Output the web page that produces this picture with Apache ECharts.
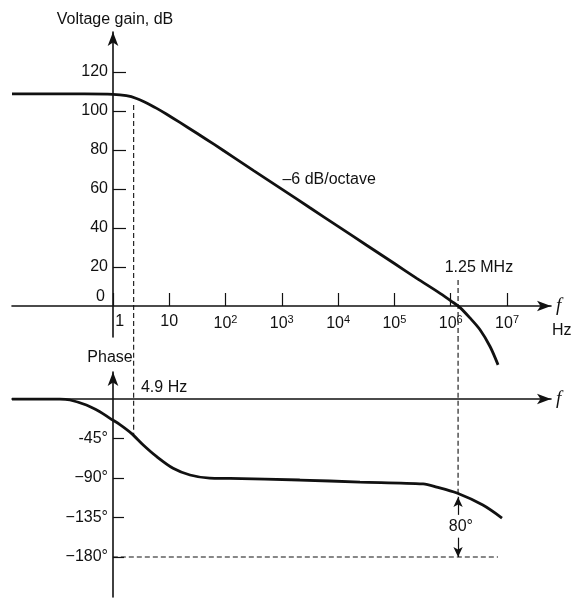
<!DOCTYPE html>
<html>
<head>
<meta charset="utf-8">
<script src="https://cdn.jsdelivr.net/npm/echarts@6/dist/echarts.min.js"></script>
<style>
html, body { margin: 0; padding: 0; background: #fff; }
#chart { width: 574px; height: 598px; }
</style>
</head>
<body>
<div id="chart"></div>
<script>
// frequencies are given in decades (log10 of f in Hz), as the figure is drawn on a log scale
const decadeTicks = [0, 1, 2, 3, 4, 5, 6, 7];
const gainTicks = [0, 20, 40, 60, 80, 100, 120];
const phaseTicks = [-45, -90, -135, -180];
const phaseTickLabels = ['-45°', '−90°', '−135°', '−180°'];

const gainFreq = [-1.79, -0.5, 0, 0.24, 0.42, 0.6, 0.78, 0.95, 1.19, 1.5, 1.8, 2.14, 2.5, 3, 3.5, 4, 4.5, 5, 5.39, 5.81, 6.02, 6.16, 6.34, 6.52, 6.7, 6.84];
const gainDb = [108.7, 108.7, 108.5, 107.8, 106.4, 104.1, 101.3, 98.4, 94.1, 88.4, 82.8, 76.3, 69.4, 59.9, 50.3, 40.8, 31.2, 21.7, 14.2, 6.4, 2.2, -0.8, -6.2, -12.3, -21, -30.3];

const phaseFreq = [-1.79, -0.94, -0.76, -0.47, -0.23, -0.05, 0.12, 0.33, 0.54, 0.78, 1.07, 1.37, 1.72, 2.08, 3.32, 4.39, 5.51, 5.75, 6.11, 6.57, 6.91];
const phaseDeg = [0, 0, -1.1, -6.8, -14.5, -22, -28.8, -39.1, -52.4, -65.7, -78.9, -86.6, -90.2, -90.5, -92.3, -94.6, -96.8, -100.3, -107.1, -120.8, -135.6];

// reference markers
const cornerFreq = 0.37;      // 4.9 Hz
const unityFreq = 6.13;       // 1.25 MHz
const cornerGainSpan = [103, -16];
const cornerPhaseSpan = [71, -43];
const unityGainSpan = [13.3, -16];
const unityPhaseSpan = [71, -111.6];
const floorPhase = -180;
const floorFreqSpan = [0, 6.84];
const marginArrowUp = [-132, -111.6];
const marginArrowDown = [-158, -180];

// annotation texts, anchored in data coordinates of their panel
const gainNotes = [
  { text: '–6 dB/octave', at: [3.84, 64.6] },
  { text: '1.25 MHz', at: [6.5, 19.5] },
  { text: 'Hz', at: [7.97, -12.8] }
];
const phaseNotes = [
  { text: '4.9 Hz', at: [0.91, 12.5] },
  { text: '80°', at: [6.18, -145.8] }
];

const FONT = "'Liberation Sans', Arial, sans-serif";
const INK = '#111';

const chart = echarts.init(document.getElementById('chart'), null, { renderer: 'canvas' });

const zip = (xs, ys) => xs.map((x, i) => [x, ys[i]]);
const vLine = (x, span) => [[x, span[0]], [x, span[1]]];

const axisLine = {
  onZero: false,
  symbol: ['none', 'arrow'],
  symbolSize: [8, 14],
  lineStyle: { color: INK, width: 1.6 }
};

const baseX = {
  type: 'value',
  min: -1.79,
  max: 7.78,
  position: 'bottom',
  splitLine: { show: false },
  axisLine: axisLine,
  name: 'f',
  nameLocation: 'end',
  nameGap: 5,
  nameTextStyle: { fontFamily: "'Liberation Serif', 'DejaVu Serif', serif", fontStyle: 'italic', fontSize: 19, color: INK }
};

const dashed = (xi, pts) => ({
  type: 'line',
  xAxisIndex: xi,
  yAxisIndex: xi,
  data: pts,
  symbol: 'none',
  clip: false,
  silent: true,
  lineStyle: { color: INK, width: 1.1, type: [5, 3] }
});

chart.setOption({
  animation: false,
  backgroundColor: '#fff',
  grid: [
    { left: 12, width: 539, top: 32, height: 305, containLabel: false, outerBoundsMode: 'none' },
    { left: 12, width: 539, top: 372, height: 225, containLabel: false, outerBoundsMode: 'none' }
  ],
  xAxis: [
    Object.assign({}, baseX, {
      gridIndex: 0,
      offset: -31,
      axisTick: {
        show: true,
        inside: true,
        length: 13,
        customValues: decadeTicks,
        lineStyle: { color: INK, width: 1.2 }
      },
      axisLabel: {
        show: true,
        customValues: decadeTicks,
        margin: 8,
        fontFamily: FONT,
        fontSize: 16,
        color: INK,
        formatter: (v) => {
          if (v === 0) return '{one|1}';
          if (v === 1) return '10';
          return '10{sup|' + v + '}';
        },
        rich: {
          one: { fontFamily: FONT, fontSize: 16, color: INK, padding: [0, 0, 0, 14] },
          sup: { fontFamily: FONT, fontSize: 11, color: INK, padding: [0, 0, 9, 0] }
        }
      }
    }),
    Object.assign({}, baseX, {
      gridIndex: 1,
      offset: -198,
      axisTick: { show: false },
      axisLabel: { show: false }
    })
  ],
  yAxis: [
    {
      type: 'value',
      gridIndex: 0,
      position: 'left',
      offset: -101,
      min: -16,
      max: 140.5,
      splitLine: { show: false },
      axisLine: axisLine,
      axisTick: {
        show: true,
        inside: true,
        length: 13,
        customValues: gainTicks.filter((v) => v !== 0),
        lineStyle: { color: INK, width: 1.2 }
      },
      axisLabel: {
        show: true,
        customValues: gainTicks,
        margin: 5,
        fontFamily: FONT,
        fontSize: 16,
        color: INK,
        formatter: (v) => (v === 0 ? '{zero|0}' : String(v)),
        rich: {
          zero: { fontFamily: FONT, fontSize: 16, color: INK, padding: [0, 3, 18, 0] }
        }
      },
      name: 'Voltage gain, dB',
      nameLocation: 'end',
      nameGap: 4,
      nameTextStyle: { fontFamily: FONT, fontSize: 16, color: INK, padding: [0, 0, 0, 4] }
    },
    {
      type: 'value',
      gridIndex: 1,
      position: 'left',
      offset: -101,
      min: -225.6,
      max: 30.8,
      splitLine: { show: false },
      axisLine: axisLine,
      axisTick: {
        show: true,
        inside: true,
        length: 11,
        customValues: phaseTicks,
        lineStyle: { color: INK, width: 1.2 }
      },
      axisLabel: {
        show: true,
        customValues: phaseTicks,
        margin: 5,
        fontFamily: FONT,
        fontSize: 16,
        color: INK,
        formatter: (v) => phaseTickLabels[phaseTicks.indexOf(v)]
      },
      name: 'Phase',
      nameLocation: 'end',
      nameGap: 6,
      nameTextStyle: { fontFamily: FONT, fontSize: 16, color: INK, padding: [0, 6, 0, 0] }
    }
  ],
  series: [
    {
      type: 'line',
      xAxisIndex: 0,
      yAxisIndex: 0,
      data: zip(gainFreq, gainDb),
      smooth: 0.3,
      symbol: 'none',
      clip: false,
      lineStyle: { color: INK, width: 2.8 }
    },
    {
      type: 'line',
      xAxisIndex: 1,
      yAxisIndex: 1,
      data: zip(phaseFreq, phaseDeg),
      smooth: 0.3,
      symbol: 'none',
      clip: false,
      lineStyle: { color: INK, width: 2.8 },
      markLine: {
        silent: true,
        symbol: ['none', 'arrow'],
        symbolSize: [7, 10],
        label: { show: false },
        lineStyle: { color: INK, width: 1.2, type: 'solid' },
        data: [
          [{ coord: [unityFreq, marginArrowUp[0]] }, { coord: [unityFreq, marginArrowUp[1]] }],
          [{ coord: [unityFreq, marginArrowDown[0]] }, { coord: [unityFreq, marginArrowDown[1]] }]
        ]
      }
    },
    dashed(0, vLine(cornerFreq, cornerGainSpan)),
    dashed(1, vLine(cornerFreq, cornerPhaseSpan)),
    dashed(0, vLine(unityFreq, unityGainSpan)),
    dashed(1, vLine(unityFreq, unityPhaseSpan)),
    dashed(1, floorFreqSpan.map((f) => [f, floorPhase]))
  ]
});

// place the annotation texts through each panel's own scales
const noteText = (gridIndex) => (n) => {
  const p = chart.convertToPixel({ gridIndex: gridIndex }, n.at);
  return {
    type: 'text',
    x: p[0],
    y: p[1],
    silent: true,
    style: { text: n.text, font: '16px ' + FONT, fill: INK, align: 'center', verticalAlign: 'middle' }
  };
};
chart.setOption({
  graphic: gainNotes.map(noteText(0)).concat(phaseNotes.map(noteText(1)))
});
</script>
</body>
</html>
